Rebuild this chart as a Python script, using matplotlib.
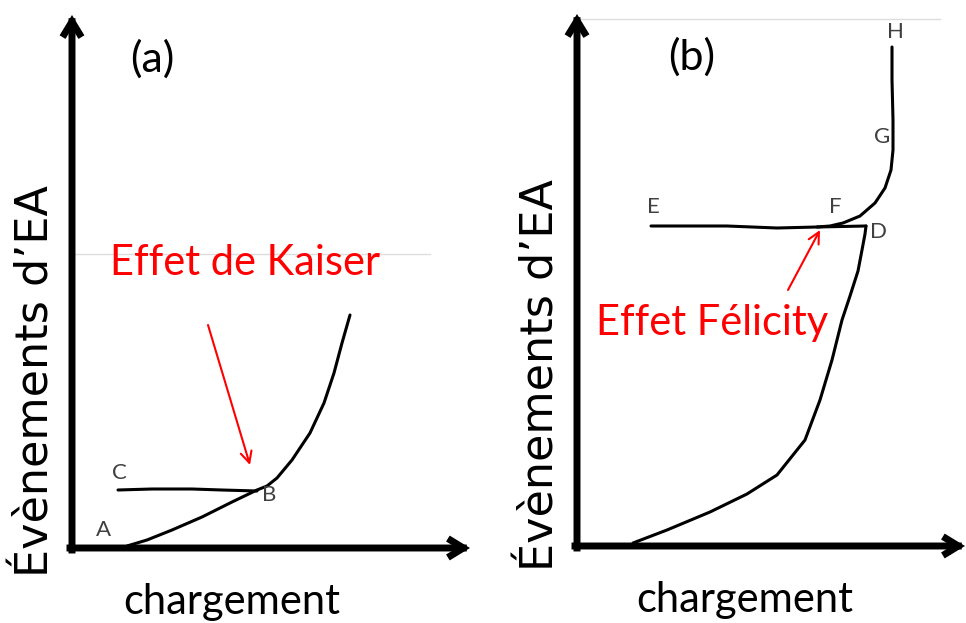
import matplotlib

matplotlib.use("Agg")
import matplotlib.pyplot as plt

# Units are pixel offsets from each panel's origin (hand-drawn schematic)
# Panel (a): Kaiser effect
a_load_AB = [55, 75, 100, 130, 160, 185, 195, 205, 220, 238, 252, 262, 270, 278]
a_events_AB = [2, 8, 18, 31, 46, 58, 62, 70, 88, 115, 145, 175, 205, 233]
a_load_C = [46, 80, 120, 150, 185]
a_events_C = [58, 59, 59, 58, 57]

# Panel (b): Felicity effect
b_load_low = [56, 90, 133, 170, 200, 228, 243, 255, 265, 273, 281, 285, 288, 289]
b_events_low = [3, 16, 34, 52, 71, 106, 146, 186, 226, 250, 275, 296, 312, 320]
b_load_DE = [289, 240, 200, 150, 110, 74]
b_events_DE = [320, 319, 318, 320, 320, 320]
b_load_FH = [240, 253, 266, 283, 298, 308, 314, 316, 316, 315, 315]
b_events_FH = [319, 320, 323, 330, 343, 358, 376, 396, 426, 466, 499]

point_labels_a = {"A": (31, 18), "B": (197, 53), "C": (47, 75)}
point_labels_b = {"E": (76, 339), "F": (258, 339), "D": (301, 314), "G": (305, 409), "H": (318, 514)}

fig = plt.figure(figsize=(9.66, 6.23), dpi=100)
W, H = 966, 623


def panel(x0, x1, ox, oy):
    ax = fig.add_axes([x0 / W, 0, (x1 - x0) / W, 1])
    ax.set_xlim(x0 - ox, x1 - ox)
    ax.set_ylim(-(H - oy), oy)
    ax.axis("off")
    return ax


def draw_axes(ax, xend, yend):
    kw = dict(arrowstyle="->,head_length=0.9,head_width=0.55", lw=5, color="black",
              shrinkA=0, shrinkB=0, capstyle="projecting", joinstyle="miter")
    ax.annotate("", xy=(0, yend), xytext=(0, -2), arrowprops=kw)
    ax.annotate("", xy=(xend, 0), xytext=(-2, 0), arrowprops=kw)


font = ["Lato", "DejaVu Sans"]
ylab_font = ["DejaVu Sans"]
lab_kw = dict(fontsize=16, color="#404040", family=font, ha="center", va="center")
curve_kw = dict(color="black", lw=2.2, solid_capstyle="round", solid_joinstyle="round")
red_arrow = dict(arrowstyle="->,head_length=0.8,head_width=0.4", lw=1.5, color="red",
                 shrinkA=0, shrinkB=0)

# ---- panel (a)
ax = panel(0, 483, 72, 548)
ax.plot([3, 358], [294, 294], color="#dddddd", lw=1)
draw_axes(ax, 398, 533)
ax.plot(a_load_AB, a_events_AB, **curve_kw)
ax.plot(a_load_C, a_events_C, **curve_kw)
for k, (x, y) in point_labels_a.items():
    ax.text(x, y, k, **lab_kw)
ax.text(80, 489, "(a)", fontsize=31, family=font, ha="center", va="center")
ax.text(173, 285, "Effet de Kaiser", fontsize=30, color="red", family=font,
        ha="center", va="center")
ax.annotate("", xy=(178, 83), xytext=(136, 223), arrowprops=red_arrow)
ax.text(-36, 167, "Évènements d’EA", fontsize=32, family=ylab_font, rotation=90,
        ha="center", va="center")
ax.text(160, -54, "chargement", fontsize=30, family=font, ha="center", va="center")

# ---- panel (b)
ax = panel(483, 966, 577, 546)
ax.plot([3, 363], [527, 527], color="#dddddd", lw=1)
draw_axes(ax, 388, 532)
ax.plot(b_load_low, b_events_low, **curve_kw)
ax.plot(b_load_DE, b_events_DE, **curve_kw)
ax.plot(b_load_FH, b_events_FH, **curve_kw)
for k, (x, y) in point_labels_b.items():
    ax.text(x, y, k, **lab_kw)
ax.text(115, 489, "(b)", fontsize=31, family=font, ha="center", va="center")
ax.text(135, 223, "Effet Félicity", fontsize=30, color="red", family=font,
        ha="center", va="center")
ax.annotate("", xy=(243, 316), xytext=(211, 256), arrowprops=red_arrow)
ax.text(-36, 171, "Évènements d’EA", fontsize=32, family=ylab_font, rotation=90,
        ha="center", va="center")
ax.text(168, -54, "chargement", fontsize=30, family=font, ha="center", va="center")

fig.savefig("out.png", dpi=100)
